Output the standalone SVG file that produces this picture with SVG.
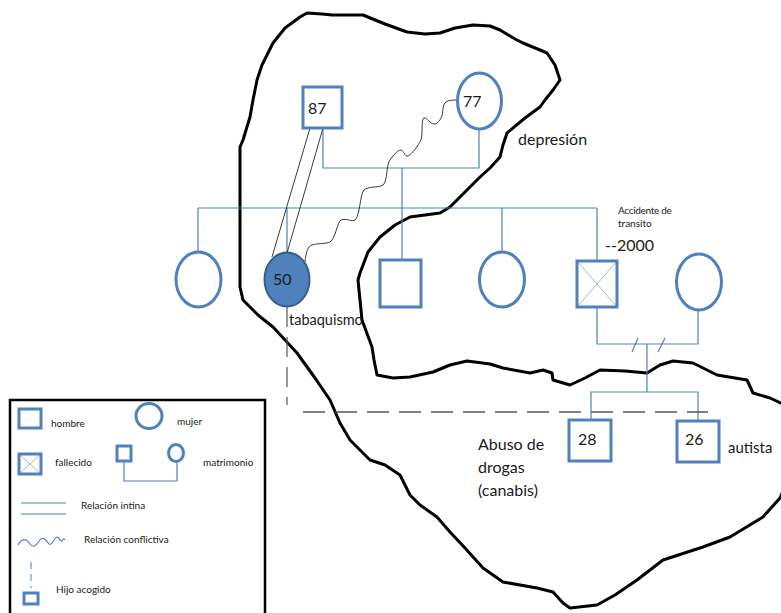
<svg xmlns="http://www.w3.org/2000/svg" width="781" height="613" viewBox="0 0 781 613">
<style>
.n{fill:#fff;stroke:#4f81bd;stroke-width:3}
.ln{fill:none;stroke:#4f81bd;stroke-width:1.2}
.x{stroke:#4f81bd;stroke-width:0.8;opacity:0.7}
.t{font-family:Lato,"Liberation Sans",sans-serif;fill:#1a1a1a}
.big{font-size:16px}
.sm{font-size:10px}
.blk{fill:none;stroke:#000;stroke-width:3;stroke-linejoin:round}
.thin{fill:none;stroke:#222;stroke-width:0.9}
</style>
<rect width="781" height="613" fill="#fff"/>
<g id="outline">
<path class="blk" d="M273,43 L285,28 L300,17 L307,13 L322,14 L332,15 L363,15 L385,24 L407,32 L425,34 L440,33 L455,28 L473,25 L490,26 L500,30 L515,39 L523,43 L540,50 L547,53 L555,65 L560,80 L553,90 L545,100 L540,107 L525,118 L507,133 L503,145 L500,157 L490,168 L480,177 L465,192 L450,207 L440,213 L410,217 L395,225 L380,237 L368,252 L360,273 L358,280 L360,300 L362,320 L372,347 L374,360 L377,375 L393,378 L410,377 L433,372 L450,365 L467,361 L490,364 L503,368 L530,373 L543,370 L552,373 L553,380 L570,385 L585,378 L600,370 L625,371 L647,373 L660,365 L673,361 L693,363 L717,375 L747,380 L753,393 L770,398 L785,405 L790,440 L788,480 L780,498 L763,517 L730,537 L703,547 L663,560 L637,580 L615,595 L597,605 L570,608 L563,603 L553,592 L537,588 L503,582 L483,568 L465,548 L450,532 L437,517 L420,505 L410,495 L400,475 L385,465 L370,460 L350,440 L340,423 L330,400 L315,378 L297,353 L285,340 L273,327 L258,315 L243,300 L240,287 L240,200 L240,147 L243,140 L250,117 L253,100 L257,80 L262,65 Z"/>
</g>
<g id="connectors">
<polyline class="ln" points="323,128 323,168 479,168 479,129"/>
<line class="ln" x1="402" y1="168" x2="402" y2="208"/>
<line class="ln" x1="198" y1="208" x2="597" y2="208"/>
<line class="ln" x1="198" y1="208" x2="198" y2="252"/>
<line class="ln" x1="287" y1="208" x2="287" y2="253"/>
<line class="ln" x1="402" y1="208" x2="402" y2="260"/>
<line class="ln" x1="502" y1="208" x2="502" y2="252"/>
<line class="ln" x1="597" y1="208" x2="597" y2="261"/>
<polyline class="ln" points="597,307 597,344 698,344 698,310"/>
<line class="ln" x1="632" y1="352" x2="638" y2="338"/>
<line class="ln" x1="658" y1="352" x2="665" y2="338"/>
<line class="ln" x1="647" y1="344" x2="647" y2="392"/>
<polyline class="ln" points="591,420 591,392 698,392 698,421"/>
<line class="thin" x1="310" y1="128" x2="272" y2="257"/>
<line class="thin" x1="323" y1="128" x2="287" y2="253"/>
<path class="thin" d="M305,262 C306,252 308,246 312,245 C318,243 326,244 330,242 C336,238 337,222 341,220 C346,218 352,222 355,220 C360,216 360,194 364,190 C368,186 378,188 383,185 C388,181 386,164 390,160 C394,154 398,150 401,150 C404,151 405,157 408,156 C412,154 418,146 421,140 C423,132 421,120 424,118 C427,117 430,124 434,124 C438,124 440,120 442,116 C443,110 443,104 446,102 C449,100 453,100 457,100"/>
<path d="M287,307 L287,405" fill="none" stroke="#555" stroke-width="1.2" stroke-dasharray="20,10"/>
<path d="M303,412 L708,412" fill="none" stroke="#555" stroke-width="1.3" stroke-dasharray="22,10"/>
</g>
<g id="n87"><rect class="n" x="303" y="87" width="39" height="41"/><text class="t big" x="308" y="114">87</text></g>
<g id="n77"><ellipse class="n" cx="479.5" cy="101" rx="22" ry="28"/><text class="t big" x="463" y="107">77</text></g>
<g id="c1"><ellipse class="n" cx="198.5" cy="279.5" rx="22.5" ry="27.5"/></g>
<g id="n50"><ellipse cx="287" cy="279.5" rx="22.5" ry="27" fill="#4f81bd" stroke="#385d8a" stroke-width="2"/><text class="t big" x="273" y="285">50</text></g>
<g id="c3"><rect class="n" x="380" y="260" width="41" height="47"/></g>
<g id="c4"><ellipse class="n" cx="502" cy="279.5" rx="22.5" ry="27.5"/></g>
<g id="c5"><rect class="n" x="577" y="261" width="40" height="46"/><line class="x" x1="577" y1="261" x2="617" y2="307"/><line class="x" x1="617" y1="261" x2="577" y2="307"/></g>
<g id="c6"><ellipse class="n" cx="699" cy="282" rx="22.5" ry="28"/></g>
<g id="n28"><rect class="n" x="569" y="420" width="42" height="41"/><text class="t big" x="578" y="445">28</text></g>
<g id="n26"><rect class="n" x="677" y="421" width="42" height="41"/><text class="t big" x="685" y="445">26</text></g>
<g id="labels">
<text class="t big" x="518" y="145">depresión</text>
<text class="t" font-size="14.5" x="289" y="325">tabaquismo</text>
<text class="t sm" x="618" y="214" letter-spacing="-0.3">Accidente de</text>
<text class="t sm" x="618" y="227">transito</text>
<text class="t big" x="605" y="251">--2000</text>
<text class="t big" x="478" y="450">Abuso de</text>
<text class="t big" x="478" y="473">drogas</text>
<text class="t big" x="478" y="496">(canabis)</text>
<text class="t" font-size="15" x="728" y="453">autista</text>
</g>
<g id="legend">
<rect x="10" y="400" width="255" height="220" fill="#fff" stroke="#000" stroke-width="2.5"/>
<rect class="n" x="19" y="409" width="22" height="19"/>
<text class="t sm" x="51" y="427">hombre</text>
<ellipse class="n" cx="149" cy="416" rx="13" ry="12.5"/>
<text class="t sm" x="177" y="425">mujer</text>
<rect class="n" x="19" y="454" width="22" height="20"/>
<line class="x" x1="19" y1="454" x2="41" y2="474"/><line class="x" x1="41" y1="454" x2="19" y2="474"/>
<text class="t sm" x="55" y="466">fallecido</text>
<rect class="n" x="117" y="446" width="14" height="15"/>
<ellipse class="n" cx="176" cy="453" rx="7.5" ry="8.5"/>
<polyline class="ln" points="124,461 124,481 177,481 177,462"/>
<text class="t sm" x="203" y="466">matrimonio</text>
<line class="ln" x1="21" y1="503" x2="66" y2="503"/>
<line class="ln" x1="21" y1="514" x2="66" y2="514"/>
<text class="t sm" x="81" y="509">Relación intina</text>
<path d="M18,545 C22,538 26,538 30,544 C33,548 36,546 40,540 C43,536 46,540 49,544 C52,546 54,538 57,537 C59,537 60,542 62,541 C63,539 64,538 65,540" fill="none" stroke="#4f81bd" stroke-width="1.1"/>
<text class="t sm" x="84" y="543">Relación conflictiva</text>
<line x1="31" y1="562" x2="31" y2="588" stroke="#4f81bd" stroke-width="1" stroke-dasharray="7,5"/>
<rect class="n" x="24" y="593" width="14" height="11"/>
<text class="t sm" x="56" y="593">Hijo acogido</text>
</g>
</svg>
